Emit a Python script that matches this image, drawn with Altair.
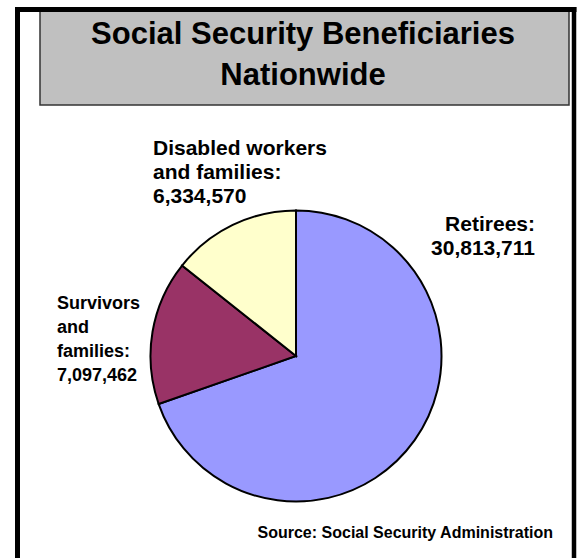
import altair as alt
import pandas as pd

# ---- data ----
categories = ["Retirees", "Survivors and families", "Disabled workers and families"]
values = [30813711, 7097462, 6334570]
label_names = ["Retirees:", "Survivors\nand\nfamilies:", "Disabled workers\nand families:"]
colors = ["#9999FF", "#993366", "#FFFFCC"]
title_lines = ["Social Security Beneficiaries", "Nationwide"]
source_text = "Source: Social Security Administration"

df = pd.DataFrame({
    "category": categories,
    "value": values,
    "order": list(range(len(categories))),
    "label": [f"{n}\n{v:,}" for n, v in zip(label_names, values)],
})

one = alt.Data(values=[{}])
FONT = "Liberation Sans, Arial, sans-serif"
NARROW = "Liberation Sans Narrow, Arial Narrow, Liberation Sans, sans-serif"

# title box
box = alt.Chart(one).mark_rect(fill="#C0C0C0", stroke="#333333", strokeWidth=1.5).encode(
    x=alt.value(40), x2=alt.value(569), y=alt.value(11), y2=alt.value(105)
)

# outer frame (open at the bottom)
left = alt.Chart(one).mark_rule(color="black", strokeWidth=5).encode(
    x=alt.value(17.5), y=alt.value(7), y2=alt.value(600)
)
top = alt.Chart(one).mark_rule(color="black", strokeWidth=5).encode(
    x=alt.value(15), x2=alt.value(576.5), y=alt.value(9.5)
)
right = alt.Chart(one).mark_rule(color="black", strokeWidth=4.5).encode(
    x=alt.value(574), y=alt.value(7), y2=alt.value(600)
)

title = alt.Chart(one).mark_text(
    font=FONT, fontSize=31, fontWeight="bold", align="center", baseline="alphabetic",
    lineBreak="\n", lineHeight=41, color="black"
).encode(text=alt.value("\n".join(title_lines)), x=alt.value(303), y=alt.value(44))

base = alt.Chart(df)

pie = base.mark_arc(outerRadius=145.5, stroke="black", strokeWidth=2).encode(
    theta=alt.Theta("value:Q", stack=True),
    color=alt.Color("category:N", scale=alt.Scale(domain=categories, range=colors), legend=None),
    order=alt.Order("order:Q"),
    x=alt.value(296),
    y=alt.value(356),
)

def label_layer(cat, x, y, align, font, size):
    return base.transform_filter(alt.datum.category == cat).mark_text(
        font=font, fontSize=size, fontWeight="bold", align=align, baseline="alphabetic",
        lineBreak="\n", lineHeight=24.2, color="black"
    ).encode(text="label:N", x=alt.value(x), y=alt.value(y))

lab_ret = label_layer(categories[0], 535, 231, "right", FONT, 21)
lab_surv = label_layer(categories[1], 57, 308.5, "left", NARROW, 18)
lab_dis = label_layer(categories[2], 153, 154.5, "left", FONT, 21)

source = alt.Chart(one).mark_text(
    font=FONT, fontSize=16, fontWeight="bold", align="right", baseline="alphabetic", color="black"
).encode(text=alt.value(source_text), x=alt.value(553), y=alt.value(538))

chart = alt.layer(
    box, left, top, right, title, pie, lab_ret, lab_surv, lab_dis, source
).properties(
    width=579, height=558, padding=0, autosize="none", background="white"
).configure_view(stroke=None)

chart.save("out.html", embed_options={"renderer": "svg", "actions": False})
